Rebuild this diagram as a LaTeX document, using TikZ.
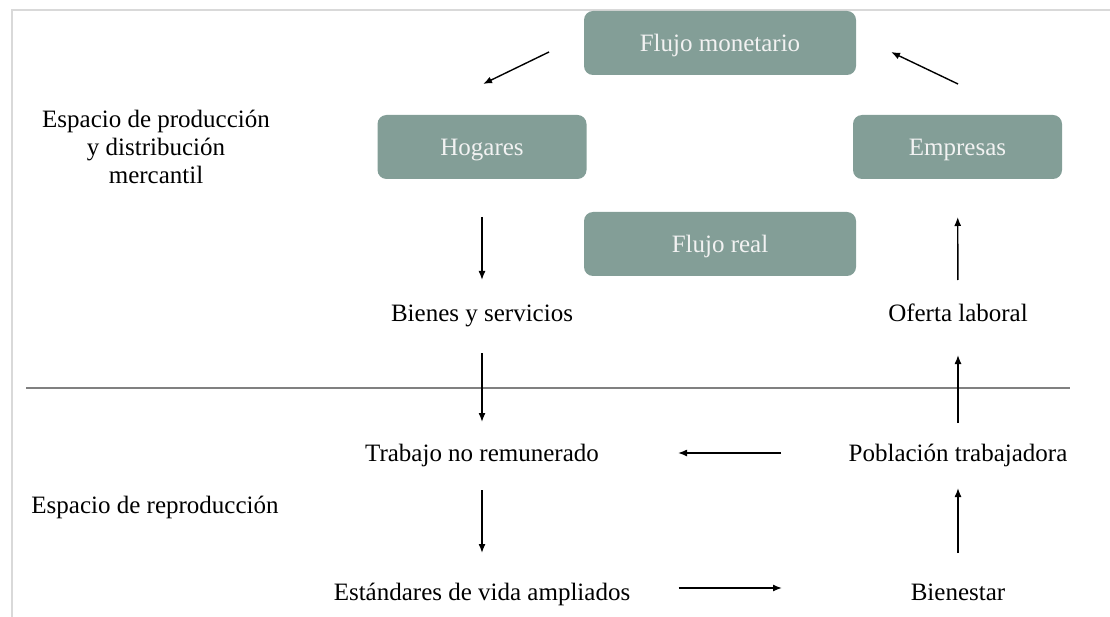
\documentclass[tikz,border=0pt]{standalone}
\usepackage{fontspec}
\setmainfont{Liberation Serif}
\usetikzlibrary{arrows.meta}
\definecolor{boxfill}{RGB}{131,158,151}
\definecolor{boxtext}{RGB}{242,242,242}
\definecolor{frameline}{RGB}{217,217,217}
\definecolor{sepline}{RGB}{128,128,128}
\begin{document}
\begin{tikzpicture}[x=1pt,y=-1pt,
  every node/.style={font=\fontsize{25}{28}\selectfont, inner sep=0pt, outer sep=0pt},
  flowbox/.style={fill=boxfill, text=boxtext, rounded corners=9pt, minimum height=64pt, text height=18pt, text depth=0pt},
  widebox/.style={flowbox, minimum width=272pt},
  narrowbox/.style={flowbox, minimum width=209pt},
  plaintext/.style={anchor=base, text height=17pt, text depth=6pt},
  arr/.style={-{Latex[length=9pt,width=7pt]}, line width=1.4pt, draw=black}]
\useasboundingbox (0,0) rectangle (1110,617);
% frame lines
\draw[frameline, line width=2pt] (12,617) -- (12,10) -- (1110,10);
% separator
\draw[sepline, line width=2pt] (26,388) -- (1070,388);
% boxes
\node[widebox] (mon) at (720,43) {Flujo monetario};
\node[narrowbox] (hog) at (482,147) {Hogares};
\node[narrowbox] (emp) at (957.5,147) {Empresas};
\node[widebox] (real) at (720,244) {Flujo real};
% side labels
\node[anchor=base, align=center] (esp1) at (156,184) {Espacio de producción\\y distribución\\mercantil};
\node[anchor=base] (esp2) at (155,513) {Espacio de reproducción};
% text nodes
\node[plaintext] (bien) at (482,322) {Bienes y servicios};
\node[plaintext] (of) at (958,322) {Oferta laboral};
\node[plaintext] (trab) at (482,461) {Trabajo no remunerado};
\node[plaintext] (pob) at (958,461) {Población trabajadora};
\node[plaintext] (est) at (482,600) {Estándares de vida ampliados};
\node[plaintext] (bn) at (958,600) {Bienestar};
% arrows
\draw[arr] ([shift={(-171,9)}]mon.center) -- ([shift={(1,-63)}]hog.center);
\draw[arr] ([shift={(0.5,-63)}]emp.center) -- ([shift={(171,9)}]mon.center);
\draw[arr, shorten <=38pt, shorten >=25pt] (hog) -- (bien);
\draw[arr, shorten <=25pt, shorten >=22pt] (bien) -- (trab);
\draw[arr, shorten <=23pt, shorten >=30pt] (trab) -- (est);
\draw[arr] ([shift={(196.5,-6.5)}]est.center) -- ([shift={(-176,-6.5)}]bn.center);
\draw[arr] ([shift={(-177,-2.5)}]pob.center) -- ([shift={(196,-2.5)}]trab.center);
\draw[arr, shorten <=30pt, shorten >=21pt] (bn) -- (pob);
\draw[arr, shorten <=21pt, shorten >=27pt] (pob) -- (of);
\draw[arr, shorten <=25pt, shorten >=38pt] (of) -- (emp);
\end{tikzpicture}
\end{document}
